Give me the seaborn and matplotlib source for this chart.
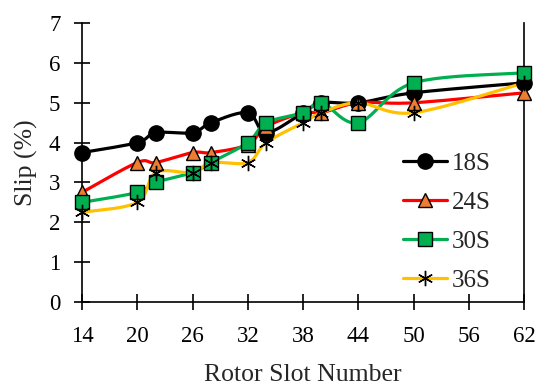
import numpy as np
import matplotlib
matplotlib.use("Agg")
import matplotlib.pyplot as plt
from matplotlib.lines import Line2D
import seaborn as sns

slots = [14, 20, 22, 26, 28, 32, 34, 38, 40, 44, 50, 62]
slip_18s = [3.75, 4.0, 4.25, 4.25, 4.5, 4.75, 4.25, 4.75, 5.0, 5.0, 5.25, 5.5]
slip_24s = [2.75, 3.5, 3.5, 3.75, 3.75, 3.95, 4.4, 4.75, 4.75, 5.0, 5.0, 5.25]
slip_30s = [2.5, 2.75, 3.0, 3.25, 3.5, 4.0, 4.5, 4.75, 5.0, 4.5, 5.5, 5.75]
slip_36s = [2.25, 2.5, 3.25, 3.25, 3.5, 3.5, 4.0, 4.5, 4.75, 5.0, 4.75, 5.5]

series = [
    ("18S", slip_18s, "black", "o", "black", 11),
    ("24S", slip_24s, "#FF0000", "^", "#ED7D31", 10),
    ("30S", slip_30s, "#00B050", "s", "#00B050", 9.5),
    ("36S", slip_36s, "#FFC000", (6, 2, 0), "black", 11),
]


def smooth_curve(xs, ys, n=24):
    # Catmull-Rom through the points, like a spreadsheet "smoothed line"
    p = np.column_stack([xs, ys]).astype(float)
    p = np.vstack([p[0], p, p[-1]])
    out = []
    for i in range(1, len(p) - 2):
        p0, p1, p2, p3 = p[i - 1], p[i], p[i + 1], p[i + 2]
        t = np.linspace(0, 1, n, endpoint=False)[:, None]
        seg = 0.5 * ((2 * p1) + (-p0 + p2) * t + (2 * p0 - 5 * p1 + 4 * p2 - p3) * t ** 2
                     + (-p0 + 3 * p1 - 3 * p2 + p3) * t ** 3)
        out.append(seg)
    out.append(p[-2][None, :])
    out = np.vstack(out)
    return out[:, 0], out[:, 1]


sns.set_style("white")
plt.rcParams["font.family"] = ["Liberation Serif", "DejaVu Serif"]

fig = plt.figure(figsize=(5.5, 3.92), dpi=100)
ax = fig.add_axes([0.149, 0.2296, 0.804, 0.7115])

handles = []
for name, vals, lc, mk, fc, ms in series:
    sx, sy = smooth_curve(slots, vals)
    sns.lineplot(x=sx, y=sy, sort=False, estimator=None, color=lc, lw=2.3, ax=ax)
    ax.plot(slots, vals, ls="none", marker=mk, ms=ms, mfc=fc, mec="black",
            mew=1.0, clip_on=False, zorder=5)
    handles.append(Line2D([], [], color=lc, lw=2.3, marker=mk, ms=ms, mfc=fc,
                          mec="black", mew=1.0))

ax.set_xlim(14, 62)
ax.set_ylim(0, 7)
ax.set_xticks([14, 20, 26, 32, 38, 44, 50, 56, 62])
ax.set_yticks(range(0, 8))
ax.set_xlabel("Rotor Slot Number", fontsize=18.5, labelpad=12)
ax.set_ylabel("Slip (%)", fontsize=18.5, labelpad=8)
ax.tick_params(axis="both", which="major", direction="inout", length=11, width=1.2,
               labelsize=16.5, color="black", labelcolor="black")
ax.tick_params(axis="x", pad=12)
ax.tick_params(axis="y", pad=10)
ax.tick_params(right=False, top=False, left=True, bottom=True)
for side in ["left", "bottom", "right"]:
    ax.spines[side].set_visible(True)
    ax.spines[side].set_color("black")
    ax.spines[side].set_linewidth(1.2)
ax.spines["top"].set_visible(False)
ax.grid(False)

leg = ax.legend(handles, [s[0] for s in series], loc="lower right",
                bbox_to_anchor=(0.976, -0.045), frameon=False, fontsize=18,
                handlelength=1.76, handletextpad=0.2, labelspacing=0.66)

fig.savefig("out.png", dpi=100)
